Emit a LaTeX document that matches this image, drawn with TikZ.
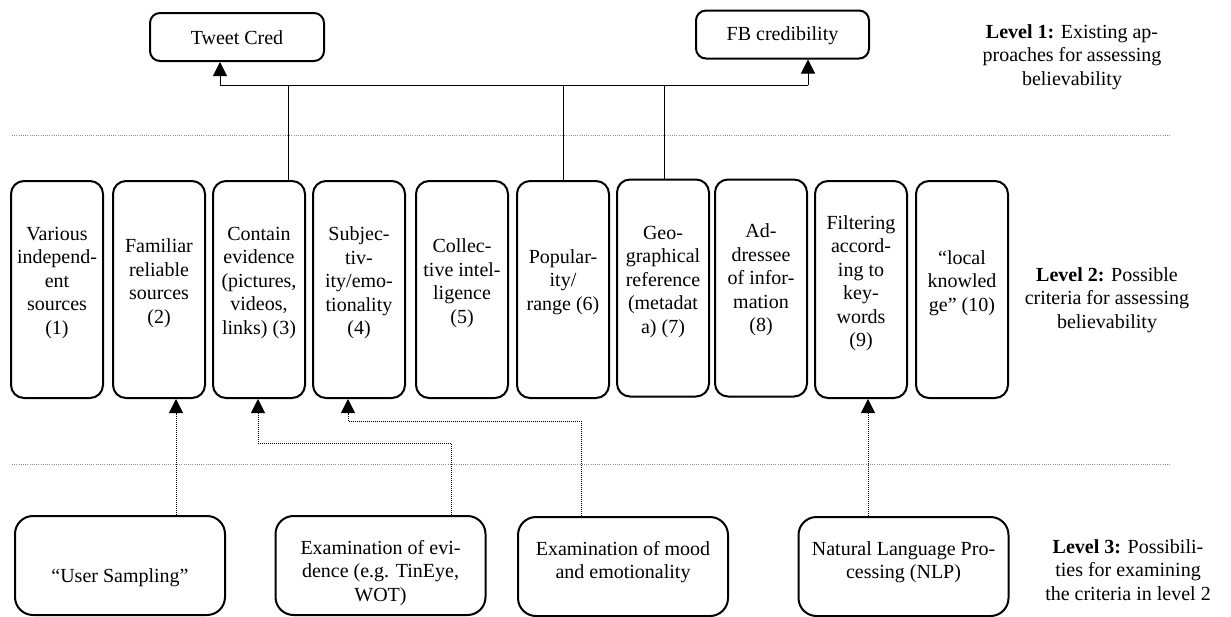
\documentclass[tikz,border=0pt]{standalone}
\usepackage{fontspec}
\setmainfont{Liberation Serif}
\usetikzlibrary{arrows.meta}
\begin{document}
\begin{tikzpicture}[x=1pt,y=-1pt,
  box/.style={draw,line width=2pt,rounded corners=13pt,inner sep=0pt},
  critbox/.style={box,minimum width=92pt,minimum height=217pt},
  topbox/.style={box,rounded corners=10pt,minimum height=48pt},
  botbox/.style={box,rounded corners=18pt,minimum width=210pt,minimum height=99pt},
  txt/.style={align=center,font=\fontsize{20}{23.5}\selectfont,inner sep=0pt},
  conn/.style={line width=1pt},
  dotc/.style={line width=1pt,dash pattern=on 1pt off 1pt},
  arr/.style={-{Triangle[width=14pt,length=14pt]}},
  divider/.style={line width=0.8pt,black!45,dash pattern=on 1pt off 1.2pt}]
\useasboundingbox (0,0) rectangle (1231,616);

% dividers
\draw[divider] (12,135) -- (1171,135);
\draw[divider] (12,464) -- (1171,464);

% level 1
\node[topbox,minimum width=174pt] (tweet) at (237,37) {};
\node[txt] (tweett) at (237,38) {Tweet Cred};
\node[topbox,minimum width=173pt] (fb) at (782.5,34.5) {};
\node[txt] (fbt) at (782.5,36) {FB credibility};
\node[txt] (l1) at (1072,57) {\textbf{Level 1:} Existing ap-\\proaches for assessing\\believability};

% level 2
\node[critbox] (c1) at (57,289.5) {};
\node[txt] (t1) at (57,283) {Various\\independ-\\ent\\sources\\(1)};
\node[critbox] (c2) at (159,289.5) {};
\node[txt] (t2) at (159,283) {Familiar\\reliable\\sources\\(2)};
\node[critbox] (c3) at (259,289.5) {};
\node[txt] (t3) at (259,283) {Contain\\evidence\\(pictures,\\videos,\\links) (3)};
\node[critbox] (c4) at (359,289.5) {};
\node[txt] (t4) at (359,283) {Subjec-\\tiv-\\ity/emo-\\tionality\\(4)};
\node[critbox] (c5) at (462,289.5) {};
\node[txt] (t5) at (462,283) {Collec-\\tive intel-\\ligence\\(5)};
\node[critbox] (c6) at (563,289.5) {};
\node[txt] (t6) at (563,282) {Popular-\\ity/\\range (6)};
\node[critbox] (c7) at (663,288) {};
\node[txt] (t7) at (663,282) {Geo-\\graphical\\reference\\(metadat\\a) (7)};
\node[critbox] (c8) at (761,288) {};
\node[txt] (t8) at (761,280) {Ad-\\dressee\\of infor-\\mation\\(8)};
\node[critbox] (c9) at (861,289.5) {};
\node[txt] (t9) at (861,283) {Filtering\\accord-\\ing to\\key-\\words\\(9)};
\node[critbox] (c10) at (962,289.5) {};
\node[txt] (t10) at (962,283) {“local\\knowled\\ge” (10)};
\node[txt] (l2) at (1107,300) {\textbf{Level 2:} Possible\\criteria for assessing\\believability};

% level 3
\node[botbox] (us) at (120,565.5) {};
\node[txt] (ust) at (120,578) {“User Sampling”};
\node[botbox] (ev) at (380.5,565.5) {};
\node[txt] (evt) at (380.5,573) {Examination of evi-\\dence (e.g. TinEye,\\WOT)};
\node[botbox] (mood) at (623,566.5) {};
\node[txt] (moodt) at (623,562) {Examination of mood\\and emotionality};
\node[botbox] (nlp) at (903.5,566.5) {};
\node[txt] (nlpt) at (903.5,562) {Natural Language Pro-\\cessing (NLP)};
\node[txt] (l3) at (1128,570) {\textbf{Level 3:} Possibili-\\ties for examining\\the criteria in level 2};

% level 2 -> level 1 connectors
\coordinate (busL) at (220,85);
\coordinate (busR) at (808,85);
\coordinate (v3) at (288,85);
\coordinate (v6) at (563,85);
\coordinate (v7) at (664,85);
\draw[conn] (busL) -- (busR);
\draw[conn,arr] (busL) -- (tweet.south -| busL);
\draw[conn,arr] (busR) -- (fb.south -| busR);
\draw[conn] (c3.north -| v3) -- (v3);
\draw[conn] (c6.north -| v6) -- (v6);
\draw[conn] (c7.north -| v7) -- (v7);

% level 3 -> level 2 connectors
\coordinate (d2) at (176,500);
\draw[dotc,arr] (us.north -| d2) -- (c2.south -| d2);
\coordinate (k1) at (451,443);
\coordinate (k2) at (258,443);
\draw[dotc,arr] (ev.north -| k1) -- (k1) -- (k2) -- (c3.south -| k2);
\coordinate (m1) at (581,421);
\coordinate (m2) at (348,421);
\draw[dotc,arr] (mood.north -| m1) -- (m1) -- (m2) -- (c4.south -| m2);
\coordinate (n1) at (868,500);
\draw[dotc,arr] (nlp.north -| n1) -- (c9.south -| n1);
\end{tikzpicture}
\end{document}
